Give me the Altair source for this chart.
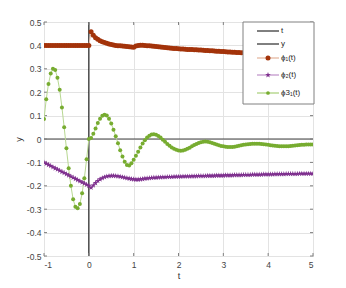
import altair as alt
import pandas as pd

# sampling grid of the solution (t from -1 to 5, step 0.05)
t_vals = [round(-1 + 0.05 * i, 2) for i in range(121)]

phi1 = [
    # -1.00 .. 0.00 (history)
    0.400, 0.400, 0.400, 0.400, 0.400, 0.400, 0.400, 0.400, 0.400, 0.400,
    0.400, 0.400, 0.400, 0.400, 0.400, 0.400, 0.400, 0.400, 0.400, 0.400,
    0.400,
    # 0.05 .. 1.00
    0.458, 0.443, 0.433, 0.426, 0.420, 0.416, 0.412, 0.409, 0.406, 0.404,
    0.402, 0.400, 0.399, 0.398, 0.397, 0.396, 0.395, 0.394, 0.393, 0.392,
    # 1.05 .. 2.00
    0.397, 0.400, 0.401, 0.401, 0.400, 0.399, 0.398, 0.397, 0.396, 0.395,
    0.394, 0.393, 0.392, 0.391, 0.390, 0.389, 0.388, 0.387, 0.387, 0.386,
    # 2.05 .. 3.00
    0.385, 0.385, 0.384, 0.383, 0.383, 0.382, 0.381, 0.381, 0.380, 0.380,
    0.379, 0.378, 0.378, 0.377, 0.377, 0.376, 0.375, 0.375, 0.374, 0.374,
    # 3.05 .. 4.00
    0.373, 0.372, 0.372, 0.371, 0.371, 0.370, 0.370, 0.369, 0.369, 0.369,
    0.368, 0.368, 0.367, 0.367, 0.367, 0.366, 0.366, 0.366, 0.365, 0.365,
    # 4.05 .. 5.00
    0.365, 0.364, 0.364, 0.364, 0.363, 0.363, 0.363, 0.363, 0.362, 0.362,
    0.362, 0.362, 0.361, 0.361, 0.361, 0.361, 0.360, 0.360, 0.360, 0.360,
]

phi2 = [
    # -1.00 .. 0.00 (history)
    -0.100, -0.105, -0.110, -0.115, -0.120, -0.125, -0.130, -0.135, -0.140, -0.145,
    -0.150, -0.155, -0.160, -0.165, -0.170, -0.175, -0.180, -0.185, -0.190, -0.195,
    -0.200,
    # 0.05 .. 1.00
    -0.208, -0.198, -0.188, -0.179, -0.172, -0.167, -0.163, -0.160, -0.158, -0.157,
    -0.157, -0.158, -0.159, -0.161, -0.163, -0.165, -0.167, -0.169, -0.171, -0.172,
    # 1.05 .. 2.00
    -0.173, -0.173, -0.172, -0.171, -0.169, -0.168, -0.167, -0.166, -0.165, -0.165,
    -0.164, -0.164, -0.163, -0.163, -0.162, -0.162, -0.162, -0.161, -0.161, -0.161,
    # 2.05 .. 3.00
    -0.161, -0.160, -0.160, -0.160, -0.160, -0.159, -0.159, -0.159, -0.158, -0.158,
    -0.158, -0.158, -0.157, -0.157, -0.157, -0.157, -0.156, -0.156, -0.156, -0.156,
    # 3.05 .. 4.00
    -0.155, -0.155, -0.155, -0.155, -0.154, -0.154, -0.154, -0.154, -0.153, -0.153,
    -0.153, -0.153, -0.152, -0.152, -0.152, -0.152, -0.152, -0.151, -0.151, -0.151,
    # 4.05 .. 5.00
    -0.151, -0.151, -0.150, -0.150, -0.150, -0.150, -0.150, -0.149, -0.149, -0.149,
    -0.149, -0.149, -0.149, -0.148, -0.148, -0.148, -0.148, -0.148, -0.148, -0.148,
]

phi3 = [
    # -1.00 .. 0.00 (history)
    0.085, 0.170, 0.235, 0.280, 0.300, 0.295, 0.262, 0.210, 0.135, 0.050,
    -0.040, -0.125, -0.200, -0.258, -0.290, -0.296, -0.278, -0.232, -0.168, -0.087,
    0.000,
    # 0.05 .. 1.00
    0.004, 0.022, 0.045, 0.068, 0.087, 0.099, 0.104, 0.100, 0.087, 0.066,
    0.040, 0.012, -0.018, -0.048, -0.075, -0.097, -0.111, -0.113, -0.104, -0.089,
    # 1.05 .. 2.00
    -0.072, -0.054, -0.036, -0.019, -0.005, 0.006, 0.014, 0.019, 0.020, 0.018,
    0.013, 0.006, -0.003, -0.012, -0.021, -0.029, -0.036, -0.042, -0.046, -0.049,
    # 2.05 .. 3.00
    -0.050, -0.049, -0.046, -0.042, -0.037, -0.031, -0.026, -0.021, -0.017, -0.014,
    -0.012, -0.011, -0.012, -0.014, -0.017, -0.020, -0.024, -0.027, -0.030, -0.031,
    # 3.05 .. 4.00
    -0.033, -0.034, -0.034, -0.034, -0.033, -0.031, -0.029, -0.027, -0.025, -0.023,
    -0.022, -0.021, -0.020, -0.020, -0.020, -0.020, -0.021, -0.022, -0.024, -0.025,
    # 4.05 .. 5.00
    -0.027, -0.028, -0.029, -0.030, -0.031, -0.031, -0.031, -0.031, -0.031, -0.030,
    -0.029, -0.028, -0.027, -0.026, -0.025, -0.025, -0.024, -0.024, -0.024, -0.024,
]

x_ticks = [-1, 0, 1, 2, 3, 4, 5]
y_ticks = [-0.5, -0.4, -0.3, -0.2, -0.1, 0.0, 0.1, 0.2, 0.3, 0.4, 0.5]
legend_labels = ["t", "y", "ϕ₁(t)", "ϕ₂(t)", "ϕ3₁(t)"]

assert len(phi1) == len(phi2) == len(phi3) == len(t_vals)

W, H = 269, 234
FONT = "Liberation Sans"
STAR = ("M0,-1L0.2245,-0.309L0.951,-0.309L0.363,0.118L0.588,0.809L0,0.382"
        "L-0.588,0.809L-0.363,0.118L-0.951,-0.309L-0.2245,-0.309Z")

df = pd.DataFrame({"t": t_vals, "phi1": phi1, "phi2": phi2, "phi3": phi3})
xt = pd.DataFrame({"v": x_ticks})
yt = pd.DataFrame({"v": y_ticks})

xs = alt.Scale(domain=[-1, 5], nice=False, zero=False)
ys = alt.Scale(domain=[-0.5, 0.5], nice=False, zero=False)
xaxis = alt.Axis(values=x_ticks, title="t", grid=True, ticks=False, domain=False,
                 labelExpr="(datum.value < 0 ? '-' : '') + format(abs(datum.value), 'd')",
                 labelPadding=4, titlePadding=3)
yaxis = alt.Axis(values=y_ticks, title="y", grid=True, ticks=False, domain=False,
                 labelExpr="(datum.value < 0 ? '-' : '') + format(abs(datum.value), '.1~f')",
                 labelPadding=3, titlePadding=3)


def X(field):
    return alt.X(field, type="quantitative", scale=xs, axis=xaxis)


def Y(field):
    return alt.Y(field, type="quantitative", scale=ys, axis=yaxis)


base = alt.Chart(df)

# zero lines
vrule = alt.Chart(xt).transform_filter("datum.v == 0").mark_rule(
    color="black", strokeWidth=1).encode(x=X("v"))
hrule = alt.Chart(yt).transform_filter("datum.v == 0").mark_rule(
    color="#404040", strokeWidth=1).encode(y=Y("v"))

# inward ticks on all four sides
tick_col = "#808080"
tb = alt.Chart(xt).mark_rule(color=tick_col).encode(x=X("v"), y=alt.value(H), y2=alt.value(H - 3))
tt = alt.Chart(xt).mark_rule(color=tick_col).encode(x=X("v"), y=alt.value(0), y2=alt.value(3))
tl = alt.Chart(yt).mark_rule(color=tick_col).encode(y=Y("v"), x=alt.value(0), x2=alt.value(3))
tr = alt.Chart(yt).mark_rule(color=tick_col).encode(y=Y("v"), x=alt.value(W), x2=alt.value(W - 3))

c1_line, c1 = "#E8C2AE", "#A3330A"
c2_line, c2 = "#CBA6D3", "#7E2F8E"
c3_line, c3 = "#B8D892", "#77AC30"

l1 = base.mark_line(color=c1_line, strokeWidth=1, clip=True).encode(x=X("t"), y=Y("phi1"))
p1 = base.mark_point(shape="circle", filled=True, color=c1, size=25, opacity=1, clip=True).encode(x=X("t"), y=Y("phi1"))
l2 = base.mark_line(color=c2_line, strokeWidth=1, clip=True).encode(x=X("t"), y=Y("phi2"))
p2 = base.mark_point(shape=STAR, filled=True, color=c2, size=36, opacity=1, clip=True).encode(x=X("t"), y=Y("phi2"))
l3 = base.mark_line(color=c3_line, strokeWidth=1, clip=True).encode(x=X("t"), y=Y("phi3"))
p3 = base.mark_point(shape="circle", filled=True, color=c3, size=16, opacity=1, clip=True).encode(x=X("t"), y=Y("phi3"))

# legend box (drawn as marks on top of the data)
LX0, LX1, LY1 = 199, 270, 82
row_y = [9, 22, 36, 53, 71]
one = pd.DataFrame({"k": [0]})
leg = [alt.Chart(one).mark_rect(fill="white", stroke="#808080", strokeWidth=1).encode(
    x=alt.value(LX0), x2=alt.value(LX1), y=alt.value(0), y2=alt.value(LY1))]
line_cols = ["black", "black", c1_line, c2_line, c3_line]
line_w = [1, 1, 1.5, 1.5, 1.5]
mk = [None, None, ("circle", c1, 25), (STAR, c2, 36), ("circle", c3, 14)]
for lab, yy, lc, lw, m in zip(legend_labels, row_y, line_cols, line_w, mk):
    d = pd.DataFrame({"label": [lab]})
    leg.append(alt.Chart(d).mark_rule(color=lc, strokeWidth=lw).encode(
        x=alt.value(213), x2=alt.value(235), y=alt.value(yy)))
    if m is not None:
        leg.append(alt.Chart(d).mark_point(shape=m[0], filled=True, color=m[1], size=m[2], opacity=1).encode(
            x=alt.value(224), y=alt.value(yy)))
    leg.append(alt.Chart(d).mark_text(align="left", baseline="middle", fontSize=8, font=FONT,
                                      color="#262626").encode(
        x=alt.value(237), y=alt.value(yy), text="label:N"))

chart = alt.layer(
    vrule, hrule, tb, tt, tl, tr, l1, l2, l3, p1, p2, p3, *leg
).properties(
    width=W, height=H,
    autosize=alt.AutoSizeParams(type="none"),
    padding={"left": 36, "top": 14, "right": 25, "bottom": 24},
    background="white",
).configure_view(
    stroke="#808080", strokeWidth=1
).configure_axis(
    labelFont=FONT, titleFont=FONT, labelFontSize=8.5, titleFontSize=9,
    labelColor="#444444", titleColor="#333333", titleFontWeight="normal",
    gridColor="#E3E3E3", gridWidth=1,
)

chart.save("out.html", embed_options={"renderer": "svg", "actions": False})
